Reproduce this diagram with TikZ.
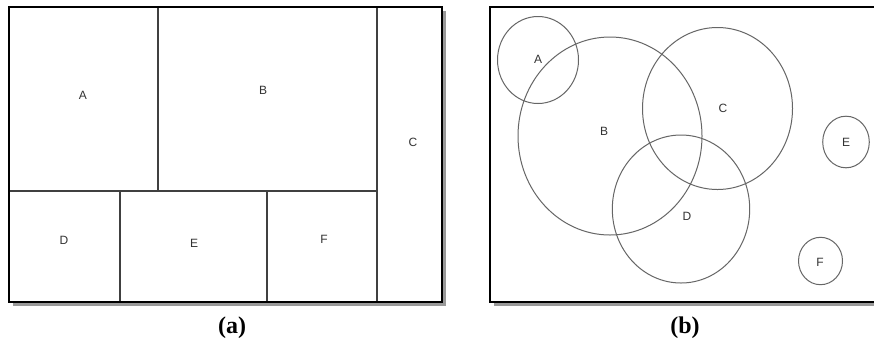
\documentclass[tikz,border=0pt]{standalone}
\usepackage{fontspec}
\setmainfont{Liberation Serif}
\setsansfont{Liberation Sans}
\usetikzlibrary{positioning}

\begin{document}
\begin{tikzpicture}[
    x=1pt,
    y=-1pt,
    frame/.style={
        draw=black,
        line width=2.4pt
    },
    shadow/.style={
        fill=black!40
    },
    part/.style={
        draw=black!75,
        line width=1.1pt
    },
    region/.style={
        draw=black!60,
        line width=1pt
    },
    lbl/.style={
        inner sep=0pt,
        text=black!80,
        font=\sffamily\fontsize{12}{13}\selectfont
    },
    caption/.style={
        inner sep=0pt,
        font=\bfseries\fontsize{24}{26}\selectfont
    }
]

\useasboundingbox (0,0) rectangle (874,341);
\clip (0,0) rectangle (874,341);

% (a)
\fill[shadow] (13,11) rectangle (446,306);
\fill[white] (9,7) rectangle (442,302);

\draw[part]
(158,7) -- (158,191);

\draw[part]
(9,191) -- (377,191);

\draw[part]
(377,7) -- (377,302);

\draw[part]
(120,191) -- (120,302);

\draw[part]
(267,191) -- (267,302);

\draw[frame] (9,7) rectangle (442,302);

\node[lbl] (a1) at (83,95) {A};
\node[lbl] (a2) at (263,90) {B};
\node[lbl] (a3) at (413,142) {C};
\node[lbl] (a4) at (64,240) {D};
\node[lbl] (a5) at (194,243) {E};
\node[lbl] (a6) at (324,239) {F};

\node[caption] (capa) at (232,328) {(a)};

% (b)
\fill[shadow] (494,11) rectangle (890,306);
\fill[white] (490,7) rectangle (886,302);

\draw[region] (538,60) ellipse [x radius=40.5,y radius=43.5];
\draw[region] (610,136) ellipse [x radius=92,y radius=99];
\draw[region] (717.5,108.5) ellipse [x radius=75,y radius=81];
\draw[region] (681,209) ellipse [x radius=68.7,y radius=74];
\draw[region] (846,142) ellipse [x radius=23.3,y radius=25.8];
\draw[region] (820.5,261) ellipse [x radius=22,y radius=23.7];

\draw[frame] (490,7) rectangle (886,302);

\node[lbl] (b1) at (538,59) {A};
\node[lbl] (b2) at (604,131) {B};
\node[lbl] (b3) at (723,108) {C};
\node[lbl] (b4) at (687,216) {D};
\node[lbl] (b5) at (846,142) {E};
\node[lbl] (b6) at (820,262) {F};

\node[caption] (capb) at (685,328) {(b)};

\end{tikzpicture}
\end{document}
